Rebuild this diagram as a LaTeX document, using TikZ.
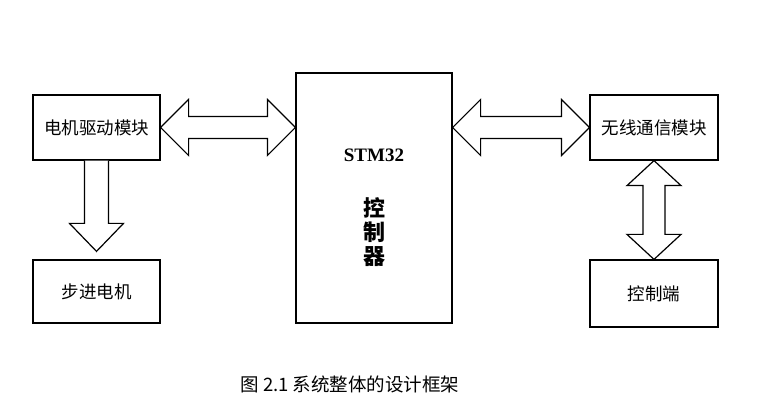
\documentclass[tikz,border=0pt]{standalone}
\usepackage{fontspec}
\usetikzlibrary{calc}
\newfontfamily\cjk{Noto Sans CJK SC}
\newfontfamily\tms{Liberation Serif}
\tikzset{box/.style={draw,line width=1.2pt,inner sep=0pt},
 harrow/.style={draw,line width=1.2pt,fill=white,line join=miter},
 lbl/.style={font=\cjk\fontsize{17.5}{20}\selectfont}}
\begin{document}
\begin{tikzpicture}[x=1pt,y=-1pt]
\useasboundingbox (0,0) rectangle (766,419);
\node[box,minimum width=127pt,minimum height=65pt] (motor) at (96.5,127.5) {};
\node[lbl] at (motor) {电机驱动模块};
\node[box,minimum width=127pt,minimum height=63pt] (step) at (96.5,291.5) {};
\node[lbl] at (step) {步进电机};
\node[box,minimum width=156pt,minimum height=250pt] (mcu) at (374,198) {};
\node[font=\tms\bfseries\fontsize{19}{22}\selectfont] (stm) at (374,155) {STM32};
\node[font=\cjk\bfseries\fontsize{22}{26}\selectfont,align=center] (kz) at (374,232) {控\\[-2pt]制\\[-2pt]器};
\node[box,minimum width=128pt,minimum height=65pt] (wl) at (654,127.5) {};
\node[lbl] at (wl) {无线通信模块};
\node[box,minimum width=128pt,minimum height=67pt] (ctl) at (654,293.5) {};
\node[lbl] at (ctl) {控制端};
% left double arrow
\draw[harrow] (motor.east) -- ++(28,-28) -- ++(0,17) -- ($(mcu.west|-motor.east)+(-28,-11)$) -- ++(0,-17) -- (mcu.west|-motor.east) -- ++(-28,28) -- ++(0,-17) -- ($(motor.east)+(28,11)$) -- ++(0,17) -- cycle;
% right double arrow
\draw[harrow] (mcu.east|-wl.west) -- ++(28,-28) -- ++(0,17) -- ($(wl.west)+(-28,-11)$) -- ++(0,-17) -- (wl.west) -- ++(-28,28) -- ++(0,-17) -- ($(mcu.east|-wl.west)+(28,11)$) -- ++(0,17) -- cycle;
% vertical double arrow
\draw[harrow] (wl.south) -- ++(27,25) -- ++(-16,0) -- ($(ctl.north)+(11,-25)$) -- ++(16,0) -- (ctl.north) -- ++(-27,-25) -- ++(16,0) -- ($(wl.south)+(-11,25)$) -- ++(-16,0) -- cycle;
% down arrow
\coordinate (tip) at ($(step.north)+(0,-8)$);
\draw[harrow] ($(motor.south)+(-12,0)$) -- ($(tip)+(-12,-28)$) -- ++(-15,0) -- (tip) -- ++(27,-28) -- ++(-15,0) -- ($(motor.south)+(12,0)$);
\node[font=\cjk\fontsize{18.5}{20}\selectfont] (cap) at (350,384) {图 2.1 系统整体的设计框架};
\end{tikzpicture}
\end{document}
